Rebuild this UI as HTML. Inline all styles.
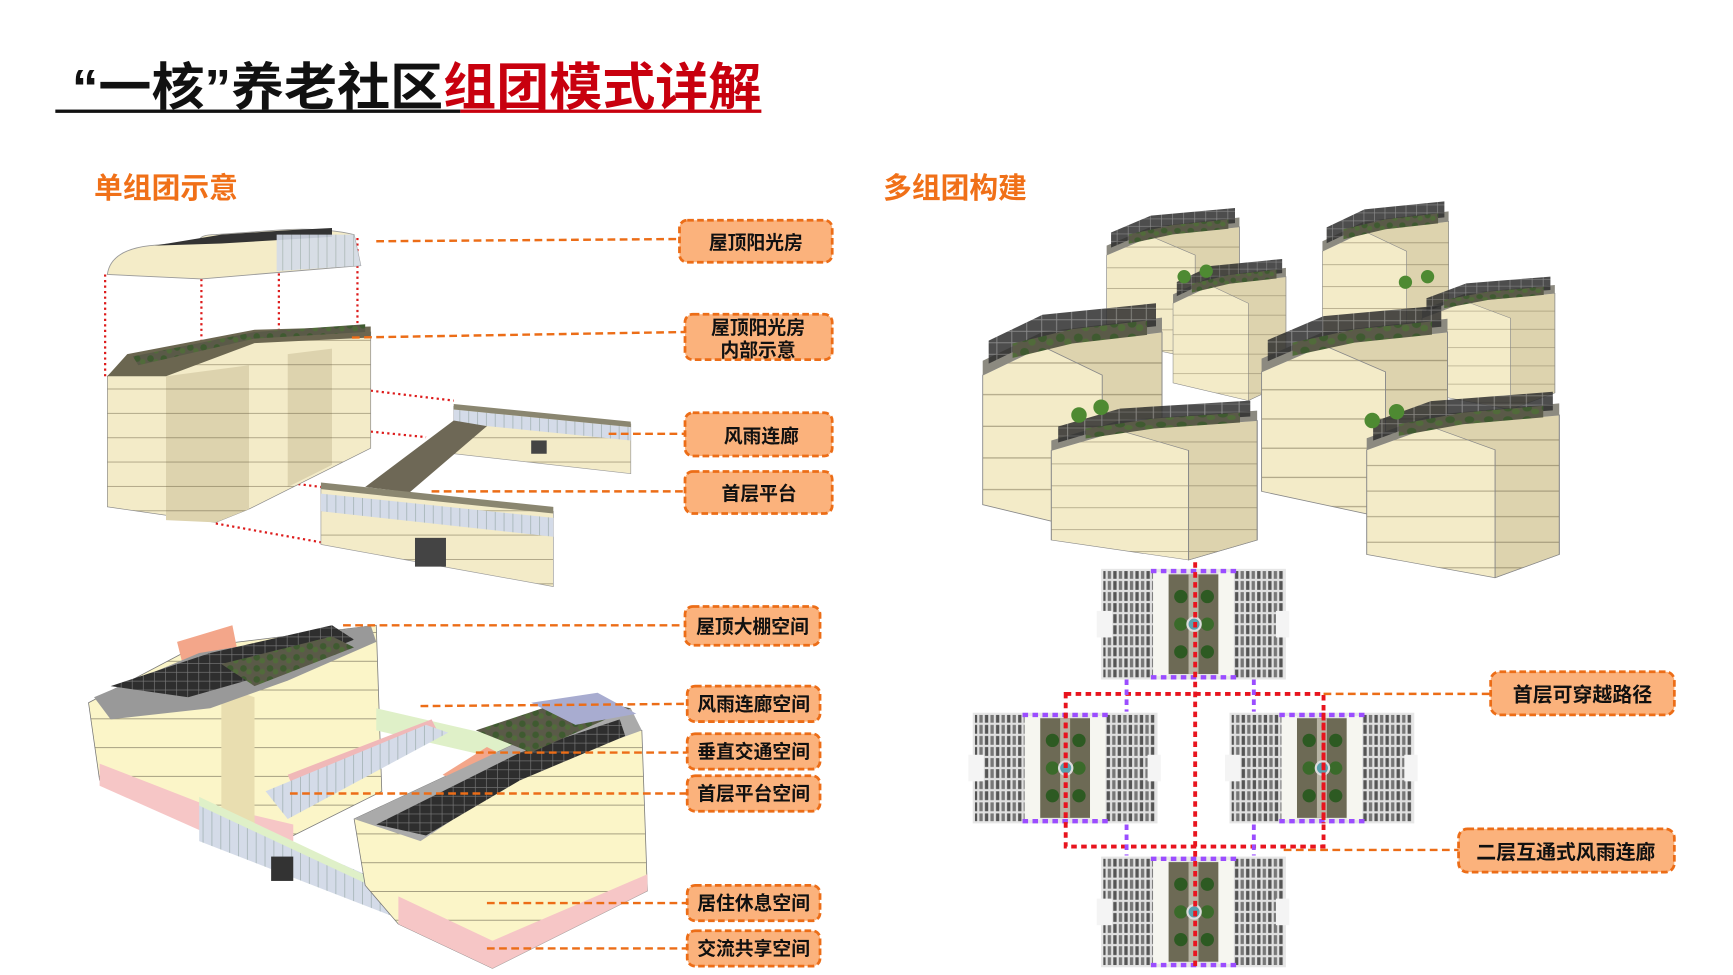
<!DOCTYPE html>
<html><head><meta charset="utf-8"><style>
html,body{margin:0;padding:0;background:#fff;}
svg{display:block;}
text{font-family:"Liberation Sans","Noto Sans CJK SC",sans-serif;font-weight:bold;}
</style></head><body>
<svg width="1733" height="975" viewBox="0 0 1566 881" preserveAspectRatio="none" xmlns="http://www.w3.org/2000/svg">
<defs>
<pattern id="fl" width="40" height="22" patternUnits="userSpaceOnUse"><rect width="40" height="22" fill="#f3ebc8"/><line x1="0" y1="21.5" x2="40" y2="21.5" stroke="#a89f80" stroke-width="0.8"/></pattern>
<pattern id="fl2" width="40" height="22" patternUnits="userSpaceOnUse"><rect width="40" height="22" fill="#ddd3ae"/><line x1="0" y1="21.5" x2="40" y2="21.5" stroke="#9c9272" stroke-width="0.8"/></pattern>
<pattern id="fly" width="40" height="26" patternUnits="userSpaceOnUse"><rect width="40" height="26" fill="#fbf5c8"/><line x1="0" y1="25.5" x2="40" y2="25.5" stroke="#9a9477" stroke-width="0.8"/></pattern>
<pattern id="sol" width="10" height="8" patternUnits="userSpaceOnUse"><rect width="10" height="8" fill="#2e2e2e"/><line x1="0" y1="7.5" x2="10" y2="7.5" stroke="#777" stroke-width="0.6"/><line x1="9.5" y1="0" x2="9.5" y2="8" stroke="#777" stroke-width="0.6"/></pattern>
<pattern id="pl" width="12" height="10" patternUnits="userSpaceOnUse"><rect width="12" height="10" fill="#5a5a48"/><circle cx="4" cy="4" r="3" fill="#3f5a30"/><circle cx="9" cy="7" r="2.5" fill="#516b3a"/></pattern>
<pattern id="gl" width="8" height="10" patternUnits="userSpaceOnUse"><rect width="8" height="10" fill="#d4dbe8"/><line x1="7.5" y1="0" x2="7.5" y2="10" stroke="#9aa" stroke-width="0.6"/></pattern>
<pattern id="gplan" width="10" height="10" patternUnits="userSpaceOnUse"><rect width="10" height="10" fill="#e0e0e0"/><rect x="1" y="1" width="3" height="8" fill="#555"/><rect x="6" y="1" width="3" height="8" fill="#777"/></pattern>
<g id="blk">
 <rect x="0" y="0" width="167" height="100" fill="#e6e6e6"/>
 <rect x="2" y="2" width="45" height="96" fill="url(#gplan)"/>
 <rect x="-4" y="38" width="14" height="24" fill="#f4f4f4"/>
 <rect x="47" y="3" width="14" height="94" fill="#f6f6f0"/>
 <rect x="61" y="5" width="45" height="90" fill="#6d6a55"/>
 <circle cx="72" cy="25" r="6" fill="#2d5a22"/><circle cx="96" cy="25" r="6" fill="#2d5a22"/>
 <circle cx="72" cy="50" r="6" fill="#3a6a2a"/><circle cx="96" cy="50" r="6" fill="#3a6a2a"/>
 <circle cx="72" cy="75" r="6" fill="#2d5a22"/><circle cx="96" cy="75" r="6" fill="#2d5a22"/>
 <rect x="79" y="5" width="9" height="90" fill="#b8b4a4"/>
 <circle cx="84" cy="50" r="6" fill="#5aa2b0" stroke="#ddd" stroke-width="2"/>
 <rect x="106" y="3" width="14" height="94" fill="#f6f6f0"/>
 <rect x="120" y="2" width="45" height="96" fill="url(#gplan)"/>
 <rect x="158" y="38" width="12" height="24" fill="#f4f4f4"/>
 <line x1="45" y1="2" x2="122" y2="2" stroke="#9b4dff" stroke-width="4" stroke-dasharray="5 4"/>
 <line x1="45" y1="98" x2="122" y2="98" stroke="#9b4dff" stroke-width="4" stroke-dasharray="5 4"/>
</g>
<g id="bld">
 <polygon points="0,30 40,10 120,0 120,120 80,140 0,120" fill="url(#fl)" stroke="#888" stroke-width="0.6"/>
 <polygon points="40,10 120,0 120,120 80,140 80,30" fill="url(#fl2)" stroke="#888" stroke-width="0.6"/>
 <polygon points="0,30 40,10 120,0 120,-10 40,0 0,20" fill="#8c8a80"/>
 <polygon points="4,22 40,4 116,-4 116,-20 40,-12 4,6" fill="url(#sol)" opacity="0.85"/>
 <polygon points="20,18 60,8 110,2 110,-8 60,-2 20,8" fill="url(#pl)"/>
</g>
</defs>

<!-- title -->
<text x="65" y="95" font-size="46" fill="#111" textLength="623" lengthAdjust="spacingAndGlyphs">“一核”养老社区<tspan fill="#c8000e">组团模式详解</tspan></text>
<rect x="50" y="99" width="366" height="3" fill="#111"/>
<rect x="416" y="99" width="272" height="3" fill="#c8000e"/>

<text x="85" y="179" font-size="26" fill="#f07018">单组团示意</text>
<text x="798" y="179" font-size="26" fill="#f07018">多组团构建</text>

<!-- top-left exploded building -->
<g stroke="#dd1a1a" stroke-width="2" stroke-dasharray="2 3" fill="none">
 <line x1="95" y1="248" x2="95" y2="340"/><line x1="182" y1="252" x2="182" y2="350"/>
 <line x1="252" y1="222" x2="252" y2="300"/><line x1="323" y1="215" x2="323" y2="300"/>
 <line x1="335" y1="353" x2="410" y2="362"/><line x1="335" y1="390" x2="385" y2="395"/>
 <line x1="195" y1="428" x2="290" y2="440"/><line x1="195" y1="473" x2="290" y2="490"/>
</g>
<path d="M97,248 Q100,226 135,222 L180,218 Q180,212 195,212 L250,208 Q290,205 320,212 L326,240 L182,252 Z" fill="#f4ecc8" stroke="#999" stroke-width="0.8"/>
<polygon points="140,222 200,212 260,208 300,206 300,214 200,220" fill="#333"/>
<polygon points="250,212 320,212 326,240 250,245" fill="url(#gl)" opacity="0.9"/>
<polygon points="97,340 115,325 230,305 335,300 335,405 225,460 195,472 97,458" fill="url(#fl)" stroke="#888" stroke-width="0.6"/>
<polygon points="150,340 150,470 195,472 225,460 225,330" fill="url(#fl2)"/>
<polygon points="260,320 260,440 300,420 300,315" fill="url(#fl2)"/>
<polygon points="97,340 115,320 230,298 335,295 335,305 230,310 150,340" fill="#6b6650"/>
<polygon points="120,322 230,300 330,293 330,300 230,306 125,330" fill="url(#pl)"/>
<polygon points="410,367 570,383 570,428 410,410" fill="url(#fl)" stroke="#999" stroke-width="0.6"/>
<polygon points="410,370 570,386 570,398 410,382" fill="url(#gl)"/>
<polygon points="410,365 570,381 570,386 410,370" fill="#8a8670"/>
<rect x="480" y="398" width="14" height="12" fill="#444"/>
<polygon points="330,440 410,380 440,385 370,445" fill="#6e6856"/>
<polygon points="290,440 500,462 500,530 290,492" fill="url(#fl)" stroke="#999" stroke-width="0.6"/>
<polygon points="290,446 500,468 500,485 290,462" fill="url(#gl)"/>
<polygon points="290,436 500,458 500,464 290,442" fill="#8a8670"/>
<rect x="375" y="486" width="28" height="26" fill="#444"/>

<!-- bottom-left complex -->
<polygon points="80,635 175,585 340,565 345,715 265,755 180,740 90,705" fill="url(#fly)" stroke="#777" stroke-width="0.7"/>
<polygon points="90,690 180,725 265,745 265,760 180,750 90,710" fill="#f6c6c6"/>
<polygon points="200,620 200,760 230,768 230,630" fill="#e9deb0"/>
<polygon points="160,580 210,565 215,590 165,600" fill="#f3a68a"/>
<polygon points="85,630 180,590 335,565 340,580 260,615 190,640 100,650" fill="#999"/>
<polygon points="100,620 190,590 300,565 320,578 240,610 170,630" fill="url(#sol)"/>
<polygon points="200,600 300,575 320,585 230,620" fill="url(#pl)"/>
<polygon points="340,640 470,670 470,690 340,660" fill="#dff0c8"/>
<polygon points="260,700 390,650 395,660 265,712" fill="#f0b8b8"/>
<polygon points="240,715 385,655 405,662 260,740" fill="url(#gl)"/>
<polygon points="180,725 330,790 360,810 360,830 180,760" fill="url(#gl)"/>
<polygon points="180,720 360,805 360,812 180,728" fill="#dff0c8"/>
<rect x="245" y="774" width="20" height="22" fill="#333"/>
<polygon points="320,740 470,670 580,660 585,805 445,875 360,835 330,800" fill="url(#fly)" stroke="#777" stroke-width="0.7"/>
<polygon points="360,810 445,850 585,790 585,805 445,875 360,835" fill="#f6c6c6"/>
<polygon points="400,700 440,675 470,690 430,715" fill="#f3a68a"/>
<polygon points="320,740 470,670 570,640 580,660 470,700 380,760" fill="#aaa"/>
<polygon points="340,745 470,680 560,650 565,665 470,705 385,755" fill="url(#sol)"/>
<polygon points="430,660 520,630 570,640 480,680" fill="url(#pl)"/>
<polygon points="480,635 540,626 575,645 520,655" fill="#a8acd0"/>

<!-- right aerial -->
<use href="#bld" transform="translate(1000,205) scale(1,0.85)"/>
<use href="#bld" transform="translate(1060,250) scale(0.85,0.8)"/>
<use href="#bld" transform="translate(1195,200) scale(0.95,0.9)"/>
<use href="#bld" transform="translate(1285,265) scale(1,0.75)"/>
<use href="#bld" transform="translate(888,300) scale(1.35,1.3)"/>
<use href="#bld" transform="translate(950,380) scale(1.55,0.9)"/>
<use href="#bld" transform="translate(1140,300) scale(1.4,1.2)"/>
<use href="#bld" transform="translate(1235,375) scale(1.45,1.05)"/>
<g fill="#4e8a32"><circle cx="1070" cy="250" r="6"/><circle cx="1090" cy="245" r="6"/><circle cx="1270" cy="255" r="6"/><circle cx="1290" cy="250" r="6"/><circle cx="975" cy="375" r="7"/><circle cx="995" cy="368" r="7"/><circle cx="1240" cy="380" r="7"/><circle cx="1262" cy="372" r="7"/></g>

<!-- plan -->
<use href="#blk" transform="translate(995,514)"/>
<use href="#blk" transform="translate(879,644)"/>
<use href="#blk" transform="translate(1111,644)"/>
<use href="#blk" transform="translate(995,774)"/>
<g fill="none" stroke-width="3.5">
 <rect x="963" y="627" width="233" height="138" stroke="#e8141e" stroke-dasharray="5 4"/>
 <line x1="1080" y1="508" x2="1080" y2="875" stroke="#e8141e" stroke-dasharray="5 4"/>
 <line x1="963" y1="644" x2="963" y2="744" stroke="#e8141e" stroke-dasharray="5 4"/>
 <line x1="1196" y1="644" x2="1196" y2="744" stroke="#e8141e" stroke-dasharray="5 4"/>
 <line x1="1018" y1="614" x2="1018" y2="643" stroke="#9b4dff" stroke-dasharray="5 4"/>
 <line x1="1133" y1="614" x2="1133" y2="643" stroke="#9b4dff" stroke-dasharray="5 4"/>
 <line x1="1018" y1="745" x2="1018" y2="773" stroke="#9b4dff" stroke-dasharray="5 4"/>
 <line x1="1133" y1="745" x2="1133" y2="773" stroke="#9b4dff" stroke-dasharray="5 4"/>
</g>

<!-- leader lines -->
<g stroke="#ec6d17" stroke-width="2.2" stroke-dasharray="7 4" fill="none">
 <line x1="340" y1="218" x2="613" y2="216"/>
 <line x1="318" y1="305" x2="619" y2="300"/>
 <line x1="550" y1="392" x2="619" y2="392"/>
 <line x1="390" y1="444" x2="619" y2="444"/>
 <line x1="310" y1="565" x2="619" y2="565"/>
 <line x1="380" y1="638" x2="621" y2="636"/>
 <line x1="430" y1="680" x2="621" y2="680"/>
 <line x1="262" y1="717" x2="621" y2="717"/>
 <line x1="440" y1="816" x2="621" y2="816"/>
 <line x1="440" y1="857" x2="621" y2="857"/>
 <line x1="1196" y1="627" x2="1347" y2="627"/>
 <line x1="1160" y1="768" x2="1318" y2="768"/>
</g>
<g fill="#fbb27c" stroke="#ec6d17" stroke-width="2.5" stroke-dasharray="6 3">
 <rect x="614" y="199" width="138" height="38" rx="7"/>
 <rect x="619" y="284" width="133" height="41" rx="7"/>
 <rect x="619" y="373" width="133" height="39" rx="7"/>
 <rect x="619" y="426" width="133" height="38" rx="7"/>
 <rect x="619" y="548" width="122" height="35" rx="7"/>
 <rect x="621" y="620" width="120" height="32" rx="7"/>
 <rect x="621" y="663" width="120" height="32" rx="7"/>
 <rect x="621" y="701" width="120" height="32" rx="7"/>
 <rect x="621" y="800" width="120" height="32" rx="7"/>
 <rect x="621" y="841" width="120" height="32" rx="7"/>
 <rect x="1347" y="607" width="166" height="39" rx="8"/>
 <rect x="1318" y="749" width="195" height="39" rx="8"/>
</g>
<g fill="#111" text-anchor="middle" font-size="17">
 <text x="683" y="225">屋顶阳光房</text>
 <text x="685" y="302">屋顶阳光房</text>
 <text x="685" y="322">内部示意</text>
 <text x="688" y="400">风雨连廊</text>
 <text x="686" y="452">首层平台</text>
 <text x="680" y="572">屋顶大棚空间</text>
 <text x="681" y="642">风雨连廊空间</text>
 <text x="681" y="685">垂直交通空间</text>
 <text x="681" y="723">首层平台空间</text>
 <text x="681" y="822">居住休息空间</text>
 <text x="681" y="863">交流共享空间</text>
 <text x="1430" y="634" font-size="18">首层可穿越路径</text>
 <text x="1415" y="776" font-size="18">二层互通式风雨连廊</text>
</g>
</svg>
</body></html>
